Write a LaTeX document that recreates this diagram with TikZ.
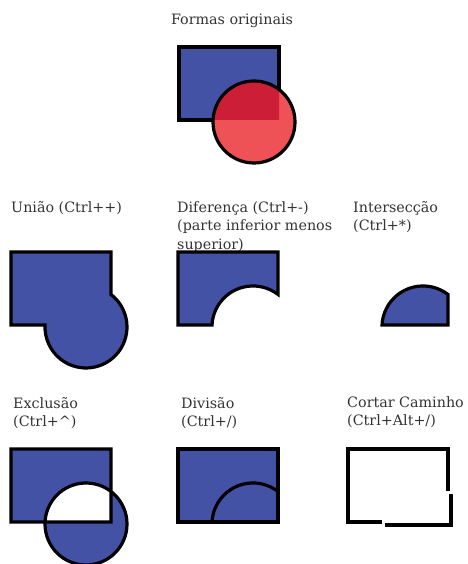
\documentclass[tikz,border=0pt]{standalone}
\usepackage{fontspec}
\setmainfont{DejaVu Serif}
\definecolor{shapeblue}{RGB}{67,82,165}
\definecolor{circred}{RGB}{238,82,86}
\definecolor{overlapred}{RGB}{204,30,54}

\begin{document}
\begin{tikzpicture}[x=1pt, y=1pt,
    outline/.style={draw=black, line width=3.2pt, line join=miter},
    bluefill/.style={fill=shapeblue},
    caption/.style={font=\fontsize{14.3}{18.5}\selectfont, align=left, anchor=north west, inner sep=0pt, text=black!80}
]
    \useasboundingbox (0,0) rectangle (467,564);

    % Original shapes
    \node[caption, anchor=north] (orig) at (232,550) {Formas originais};
    \begin{scope}[shift={(179,444)}]
        \filldraw[bluefill, outline] (0,0) rectangle (100,73);
        \fill[circred] (75,-2) circle (41);
        \begin{scope}
            \clip (0,0) rectangle (100,73);
            \fill[overlapred] (75,-2) circle (41);
        \end{scope}
        \draw[outline] (75,-2) circle (41);
    \end{scope}

    % Labels
    \node[caption] (union) at (11,363) {União (Ctrl++)};
    \node[caption] (diff) at (177,363) {Diferença (Ctrl+-)\\(parte inferior menos\\superior)};
    \node[caption] (inter) at (353,363) {Intersecção\\(Ctrl+*)};
    \node[caption] (excl) at (13,167) {Exclusão\\(Ctrl+\textasciicircum)};
    \node[caption] (div) at (181,167) {Divisão\\(Ctrl+/)};
    \node[caption] (cut) at (347,168) {Cortar Caminho\\(Ctrl+Alt+/)};

    % Union
    \begin{scope}[shift={(11,239)}]
        \filldraw[bluefill, outline] (0,73) -- (100,73) -- (100,30.5)
            arc[start angle=52.4, end angle=-182.8, radius=41] -- (0,0) -- cycle;
    \end{scope}

    % Difference
    \begin{scope}[shift={(178,239)}]
        \filldraw[bluefill, outline] (0,73) -- (100,73) -- (100,30.5)
            arc[start angle=52.4, end angle=177.2, radius=41] -- (0,0) -- cycle;
    \end{scope}

    % Intersection
    \begin{scope}[shift={(348,239)}]
        \filldraw[bluefill, outline] (100,30.5)
            arc[start angle=52.4, end angle=177.2, radius=41] -- (100,0) -- cycle;
    \end{scope}

    % Exclusion
    \begin{scope}[shift={(11,42)}]
        \filldraw[bluefill, outline, even odd rule] (0,0) rectangle (100,73) (75,-2) circle (41);
    \end{scope}

    % Division
    \begin{scope}[shift={(178,42)}]
        \filldraw[bluefill, outline] (0,0) rectangle (100,73);
        \draw[outline] (100,30.5) arc[start angle=52.4, end angle=177.2, radius=41];
    \end{scope}

    % Cut path
    \begin{scope}[shift={(348,42)}]
        \draw[outline] (100,30.5) -- (100,73) -- (0,73) -- (0,0) -- (34,0);
        \draw[outline, shift={(3,-3)}] (100,30.5) -- (100,0) -- (34,0);
    \end{scope}
\end{tikzpicture}
\end{document}
